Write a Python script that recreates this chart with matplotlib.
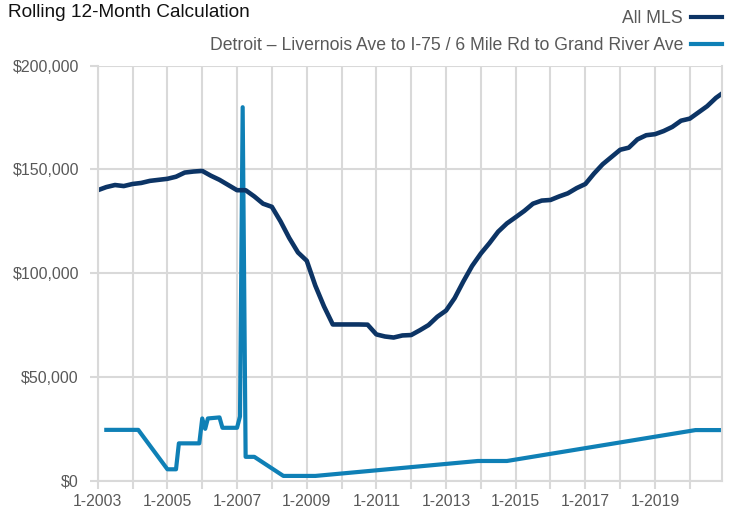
import matplotlib.pyplot as plt
import matplotlib.dates as mdates
import matplotlib.ticker as mticker
from matplotlib.lines import Line2D
import pandas as pd

# All MLS rolling 12-month values, read quarterly (Jan/Apr/Jul/Oct) + Dec 2020
all_mls_dates = list(pd.date_range("2003-01-01", "2020-10-01", freq="QS")) + [pd.Timestamp("2020-12-01")]
all_mls_values = [
    140000, 141500, 142500, 142000,
    143000, 143500, 144500, 145000,
    145500, 146500, 148500, 149000,
    149300, 147000, 145000, 142500,
    140000, 140000, 137000, 133500,
    132000, 125000, 117000, 110000,
    106000, 94000, 84000, 75300,
    75300, 75300, 75300, 75200,
    70500, 69500, 69000, 70000,
    70200, 72500, 75000, 79000,
    82000, 88000, 96000, 103500,
    109500, 114500, 120000, 124000,
    127000, 130000, 133500, 135000,
    135300, 137000, 138500, 141000,
    143000, 148000, 152500, 156000,
    159500, 160500, 164500, 166500,
    167000, 168500, 170500, 173500,
    174500, 177500, 180500, 184500,
    186500,
]

# Detroit area values (line vertices)
detroit_dates = [
    "2003-04", "2004-03", "2005-01", "2005-04", "2005-05", "2005-12",
    "2006-01", "2006-02", "2006-03", "2006-07", "2006-08", "2007-01",
    "2007-02", "2007-03", "2007-04", "2007-07", "2008-05", "2009-04",
    "2013-12", "2014-10", "2020-03", "2020-12",
]
detroit_values = [
    24500, 24500, 5500, 5500, 18000, 18000,
    30000, 25000, 30000, 30500, 25500, 25500,
    31000, 180000, 11500, 11500, 2300, 2300,
    9500, 9500, 24400, 24400,
]

navy = "#0c3465"
blue = "#0f80b6"
grid_col = "#d9d9d9"
text_col = "#595959"

plt.rcParams["font.family"] = ["Liberation Sans", "DejaVu Sans"]

fig = plt.figure(figsize=(7.32, 5.15), dpi=100)
ax = fig.add_axes([0.1335, 0.0666, 0.8525, 0.8058])

ax.plot(pd.to_datetime(detroit_dates), detroit_values, color=blue, linewidth=3, solid_joinstyle="round")
ax.plot(all_mls_dates, all_mls_values, color=navy, linewidth=3.3, solid_joinstyle="round")

ax.set_xlim(pd.Timestamp("2003-01-01"), pd.Timestamp("2020-12-01"))
ax.set_ylim(0, 200000)

ax.yaxis.set_major_locator(mticker.MultipleLocator(50000))
ax.yaxis.set_major_formatter(mticker.FuncFormatter(lambda v, p: f"${v:,.0f}"))

ax.xaxis.set_major_locator(mdates.YearLocator(1))
ax.xaxis.set_major_formatter(
    mticker.FuncFormatter(lambda v, p: f"1-{mdates.num2date(v).year}" if mdates.num2date(v).year % 2 == 1 else "")
)

ax.grid(True, color=grid_col, linewidth=1.5)
ax.set_axisbelow(True)
ax.spines["top"].set_visible(False)
for side in ["left", "right", "bottom"]:
    ax.spines[side].set_color(grid_col)
    ax.spines[side].set_linewidth(1.5)

ax.tick_params(axis="both", colors=grid_col, labelcolor=text_col, width=1.5, length=6)
ax.tick_params(axis="y", pad=7.5, labelsize=11.5)
ax.tick_params(axis="x", pad=3.5, labelsize=11.3)

fig.text(0.011, 0.975, "Rolling 12-Month Calculation", fontsize=13.7, color="#111111", va="center", ha="left")

handles = [Line2D([], [], color=navy, linewidth=3), Line2D([], [], color=blue, linewidth=3)]
labels = ["All MLS", "Detroit \u2013 Livernois Ave to I-75 / 6 Mile Rd to Grand River Ave"]
fig.legend(handles, labels, loc="upper right", bbox_to_anchor=(0.986, 0.981), frameon=False,
           markerfirst=False, handlelength=1.75, handletextpad=0.45, labelspacing=0.6,
           borderpad=0, borderaxespad=0, fontsize=12.7, labelcolor=text_col)

fig.savefig("out.png", dpi=100)
